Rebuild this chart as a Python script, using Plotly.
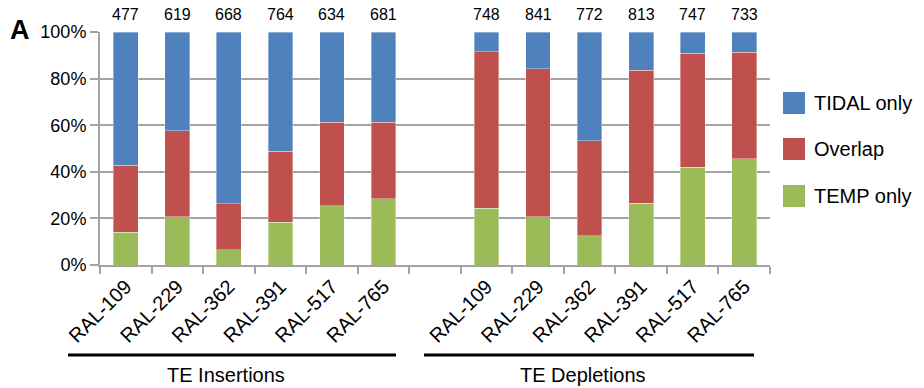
import plotly.graph_objects as go

# ---- data ----
strains = ["RAL-109", "RAL-229", "RAL-362", "RAL-391", "RAL-517", "RAL-765"]
groups = ["TE Insertions", "TE Depletions"]
series_names = ["TEMP only", "Overlap", "TIDAL only"]
temp_only = [14.0, 20.7, 6.6, 18.3, 25.4, 28.5, 24.4, 20.8, 12.6, 26.4, 41.9, 45.6]
overlap = [28.9, 36.9, 19.6, 30.6, 35.9, 32.7, 67.2, 63.5, 40.8, 57.2, 49.0, 45.8]
tidal_only = [57.1, 42.4, 73.8, 51.1, 38.7, 38.8, 8.4, 15.7, 46.6, 16.4, 9.1, 8.6]
totals = [477, 619, 668, 764, 634, 681, 748, 841, 772, 813, 747, 733]
y_ticks = [0, 20, 40, 60, 80, 100]

# ---- styling ----
colors = {"TEMP only": "#9BBB59", "Overlap": "#C0504D", "TIDAL only": "#4F81BD"}
FONT = "Arial, Liberation Sans, sans-serif"
GRID = "#A3A3A3"

W, H = 924, 388
L, R, T, B = 100, 154, 32, 123
pw, ph = W - L - R, H - T - B


def px2x(px):
    return (px - L) / pw


def px2y(py):
    return (H - B - py) / ph


n = len(strains)
xpos = list(range(n)) + [n + 1 + i for i in range(n)]
labels = strains + strains

fig = go.Figure()
for name, vals in zip(series_names, [temp_only, overlap, tidal_only]):
    fig.add_trace(go.Bar(
        x=xpos, y=vals, name=name, width=0.48,
        marker=dict(color=colors[name], line=dict(color="rgba(255,255,255,0.6)", width=0.6)),
        showlegend=False,
    ))

annotations = []
for xp, tot in zip(xpos, totals):
    annotations.append(dict(x=xp, y=100, xref="x", yref="y", text=str(tot), showarrow=False,
                            yanchor="bottom", yshift=7, font=dict(family=FONT, size=16, color="black")))

# panel letter
annotations.append(dict(x=px2x(8), y=px2y(30), xref="paper", yref="paper", text="<b>A</b>",
                        showarrow=False, xanchor="left", yanchor="middle",
                        font=dict(family=FONT, size=27, color="black")))

shapes = []
# group underlines and labels
group_lines = [(68, 396), (424, 754)]
for g, (x0, x1) in zip(groups, group_lines):
    shapes.append(dict(type="line", xref="paper", yref="paper", x0=px2x(x0), x1=px2x(x1),
                       y0=px2y(355), y1=px2y(355), line=dict(color="black", width=3)))
    annotations.append(dict(x=px2x((x0 + x1) / 2 - 6), y=px2y(375), xref="paper", yref="paper",
                            text=g, showarrow=False, xanchor="center", yanchor="middle",
                            font=dict(family=FONT, size=20, color="black")))

# manual legend (order top to bottom)
legend_centers = {"TIDAL only": 103, "Overlap": 149, "TEMP only": 196}
for name in ["TIDAL only", "Overlap", "TEMP only"]:
    cy = legend_centers[name]
    shapes.append(dict(type="rect", xref="paper", yref="paper", x0=px2x(783), x1=px2x(805),
                       y0=px2y(cy + 11), y1=px2y(cy - 11), fillcolor=colors[name],
                       line=dict(width=0)))
    annotations.append(dict(x=px2x(812), y=px2y(cy), xref="paper", yref="paper", text=name,
                            showarrow=False, xanchor="left", yanchor="middle",
                            font=dict(family=FONT, size=20, color="black")))

fig.update_layout(
    width=W, height=H,
    margin=dict(l=L, r=R, t=T, b=B),
    barmode="stack",
    plot_bgcolor="white", paper_bgcolor="white",
    font=dict(family=FONT, color="black"),
    annotations=annotations,
    shapes=shapes,
    showlegend=False,
)
fig.update_xaxes(
    range=[-0.5, 2 * n + 0.5],
    tickmode="array", tickvals=xpos, ticktext=labels, tickangle=-45,
    ticks="", ticklen=0,
    tickfont=dict(family=FONT, size=20, color="black"),
    showline=True, linecolor=GRID, linewidth=2, showgrid=False, zeroline=False,
    minor=dict(tick0=-0.5, dtick=1, ticks="outside", ticklen=7, tickcolor=GRID, tickwidth=2, showgrid=False),
)
fig.update_yaxes(
    range=[0, 100], tickmode="array", tickvals=y_ticks, ticktext=[f"{v}%" for v in y_ticks],
    ticks="outside", ticklen=8, tickcolor=GRID, tickwidth=2,
    tickfont=dict(family=FONT, size=18, color="black"),
    showline=True, linecolor=GRID, linewidth=2,
    showgrid=True, gridcolor=GRID, gridwidth=2, zeroline=False,
)

fig.write_html("out.html", config={"displayModeBar": False},
               post_script="document.body.style.margin='0';")
